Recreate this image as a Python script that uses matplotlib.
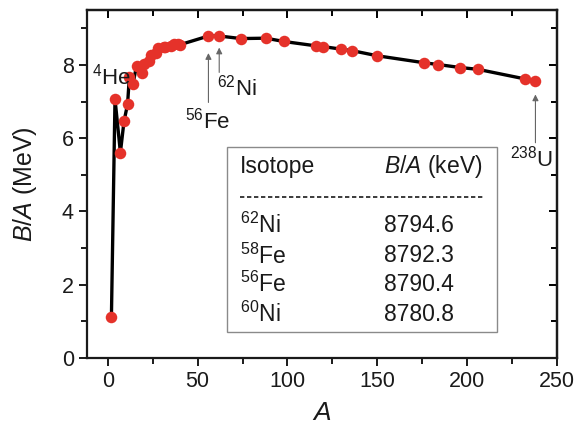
import matplotlib
matplotlib.use("Agg")
import matplotlib.pyplot as plt
from matplotlib.ticker import MultipleLocator

plt.rcParams['font.family'] = ['Liberation Sans', 'DejaVu Sans']
plt.rcParams['mathtext.fontset'] = 'custom'
plt.rcParams['mathtext.rm'] = 'Liberation Sans'
plt.rcParams['mathtext.it'] = 'Liberation Sans:italic'
plt.rcParams['mathtext.default'] = 'regular'

# binding energy per nucleon (MeV) vs mass number
mass_number = [2, 4, 7, 9, 11, 12, 14, 16, 19, 20, 23, 24, 27, 28, 31, 32, 35,
               37, 39, 40, 56, 62, 74, 88, 98, 116, 120, 130, 136, 150, 176,
               184, 196, 206, 232, 238]
b_per_a = [1.11, 7.07, 5.61, 6.46, 6.93, 7.68, 7.48, 7.98, 7.78, 8.03, 8.11,
           8.26, 8.33, 8.45, 8.48, 8.49, 8.52, 8.57, 8.56, 8.55, 8.79, 8.79,
           8.72, 8.73, 8.64, 8.52, 8.50, 8.43, 8.39, 8.25, 8.06, 8.01, 7.93,
           7.88, 7.62, 7.57]

isotopes = [r'$^{62}$Ni', r'$^{58}$Fe', r'$^{56}$Fe', r'$^{60}$Ni']
isotope_kev = [8794.6, 8792.3, 8790.4, 8780.8]

fig = plt.figure(figsize=(5.81, 4.34), dpi=100)
ax = fig.add_axes([0.1497, 0.175, 0.8090, 0.802])

ax.plot(mass_number, b_per_a, color='black', lw=2.4, zorder=2)
ax.plot(mass_number, b_per_a, 'o', color='#e5322a', ms=8.3, mec='none', zorder=3)

ax.set_xlim(-11.6, 250)
ax.set_ylim(0, 9.5)

ax.xaxis.set_major_locator(MultipleLocator(50))
ax.xaxis.set_minor_locator(MultipleLocator(25))
ax.yaxis.set_major_locator(MultipleLocator(2))
ax.yaxis.set_minor_locator(MultipleLocator(1))
ax.tick_params(which='both', direction='out', width=1.4, colors='#1a1a1a',
               labelsize=15.5)
ax.tick_params(which='major', length=6)
ax.tick_params(which='minor', length=4)
for s in ax.spines.values():
    s.set_linewidth(1.6)
    s.set_color('#1a1a1a')

# mirrored ticks pointing inward on the top and right
top = ax.secondary_xaxis('top')
top.xaxis.set_major_locator(MultipleLocator(50))
top.xaxis.set_minor_locator(MultipleLocator(25))
top.tick_params(which='both', direction='in', width=1.4, labeltop=False)
top.tick_params(which='major', length=6)
top.tick_params(which='minor', length=4)
right = ax.secondary_yaxis('right')
right.yaxis.set_major_locator(MultipleLocator(2))
right.yaxis.set_minor_locator(MultipleLocator(1))
right.tick_params(which='both', direction='in', width=1.4, labelright=False)
right.tick_params(which='major', length=6)
right.tick_params(which='minor', length=4)
top.spines['top'].set_linewidth(1.6)
right.spines['right'].set_linewidth(1.6)

ax.set_xlabel(r'$\mathit{A}$', fontsize=19, labelpad=6, color='#1a1a1a')
ax.set_ylabel(r'$\mathit{B/A}$ (MeV)', fontsize=18, labelpad=16, color='#1a1a1a')

# isotope labels
ax.text(-8.6, 7.68, r'$^{4}$He', fontsize=16, ha='left', va='center', color='#1a1a1a')
arrow = dict(arrowstyle='-|>', color='#666666', lw=0.8, mutation_scale=9)
ax.annotate('', xy=(56, 8.4), xytext=(56, 6.9), arrowprops=arrow)
ax.text(55.3, 6.48, r'$^{56}$Fe', fontsize=16, ha='center', va='center', color='#1a1a1a')
ax.annotate('', xy=(62, 8.55), xytext=(62, 7.72), arrowprops=arrow)
ax.text(60.6, 7.38, r'$^{62}$Ni', fontsize=16, ha='left', va='center', color='#1a1a1a')
ax.annotate('', xy=(238, 7.27), xytext=(238, 5.8), arrowprops=arrow)
ax.text(236, 5.45, r'$^{238}$U', fontsize=16, ha='center', va='center', color='#1a1a1a')

# table of the most tightly bound nuclei
ax.add_patch(plt.Rectangle((66.4, 0.71), 150.4, 5.06, fill=False,
                           ec='#8a8a8a', lw=1.0, zorder=4))
ax.text(73.6, 5.22, 'Isotope', fontsize=16.5, va='center', color='#1a1a1a')
ax.text(153.8, 5.22, r'$\mathit{B/A}$ (keV)', fontsize=16.5, va='center', color='#1a1a1a')
ax.plot([73.6, 209.6], [4.40, 4.40], color='#1a1a1a', lw=1.2,
        linestyle=(0, (2.6, 1.6)))
row_y = [3.63, 2.79, 2.02, 1.20]
for name, val, y in zip(isotopes, isotope_kev, row_y):
    ax.text(73.6, y, name, fontsize=16.5, va='center', color='#1a1a1a')
    ax.text(153.8, y, f'{val:.1f}', fontsize=16.5, va='center', color='#1a1a1a')

fig.savefig('out.png', dpi=100)
